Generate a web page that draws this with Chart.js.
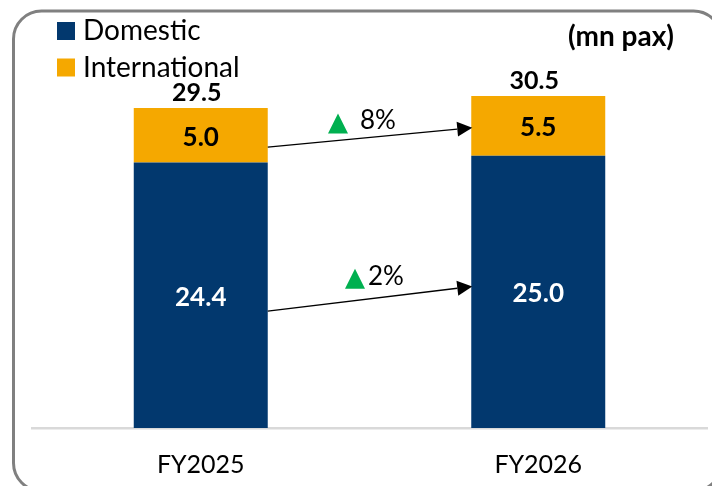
<!DOCTYPE html>
<html>
<head>
<meta charset="utf-8">
<script src="https://cdn.jsdelivr.net/npm/chart.js@4"></script>
<style>
  html, body { margin: 0; padding: 0; background: #ffffff; }
  #wrap { width: 712px; height: 486px; position: relative; }
</style>
</head>
<body>
<div id="wrap"><canvas id="c" width="712" height="486"></canvas></div>
<script>
// ---- data ----
const categories = ['FY2025', 'FY2026'];
const domestic = [24.4, 25.0];
const international = [5.0, 5.5];
const totals = [29.5, 30.5];
const seriesNames = ['Domestic', 'International'];
const growthLabels = ['2%', '8%'];      // per series: Domestic, International
const unitLabel = '(mn pax)';

const NAVY = '#02386E';
const ORANGE = '#F5A800';
const GREEN = '#00B050';
const FONT = 'Lato, "Open Sans", sans-serif';

const borderPlugin = {
  id: 'frame',
  beforeDraw(chart) {
    const ctx = chart.ctx;
    ctx.save();
    ctx.strokeStyle = '#808080';
    ctx.lineWidth = 3;
    ctx.beginPath();
    ctx.roundRect(13.5, 11, 708, 480, 28);
    ctx.stroke();
    ctx.restore();
  }
};

const legendPlugin = {
  id: 'customLegend',
  afterDraw(chart) {
    const ctx = chart.ctx;
    ctx.save();
    ctx.font = '28px ' + FONT;
    ctx.textBaseline = 'middle';
    ctx.textAlign = 'left';
    chart.data.datasets.forEach((ds, i) => {
      const y = 22 + i * 36.5;
      ctx.fillStyle = ds.backgroundColor;
      ctx.fillRect(57, y, 18, 18);
      ctx.fillStyle = '#000';
      ctx.fillText(ds.label, 83, y + 9);
    });
    ctx.font = 'bold 28px ' + FONT;
    ctx.textAlign = 'center';
    ctx.fillText(unitLabel, 621, 37);
    ctx.restore();
  }
};

const labelsPlugin = {
  id: 'valueLabels',
  afterDatasetsDraw(chart) {
    const ctx = chart.ctx;
    ctx.save();
    ctx.textAlign = 'center';
    ctx.textBaseline = 'middle';
    ctx.font = 'bold 26px ' + FONT;
    const metas = chart.data.datasets.map((d, i) => chart.getDatasetMeta(i));
    metas.forEach((meta, di) => {
      const ds = chart.data.datasets[di];
      meta.data.forEach((bar, j) => {
        ctx.fillStyle = di === 0 ? '#ffffff' : '#000000';
        ctx.fillText(ds.data[j].toFixed(1), bar.x, (bar.y + bar.base) / 2 + 2);
      });
    });
    // totals
    ctx.font = 'bold 25px ' + FONT;
    ctx.fillStyle = '#000';
    const top = metas[metas.length - 1];
    top.data.forEach((bar, j) => {
      ctx.fillText(totals[j].toFixed(1), bar.x - 4, bar.y - 15);
    });

    // growth arrows
    const fracs = [[0.56, 0.48], [0.72, 0.53]];
    const markOff = [[-25, -10], [-42, -4]];
    metas.forEach((meta, di) => {
      const b0 = meta.data[0], b1 = meta.data[1];
      const x0 = b0.x + b0.width / 2;
      const y0 = b0.y + (b0.base - b0.y) * fracs[di][0];
      const x1 = b1.x - b1.width / 2 + 1;
      const y1 = b1.y + (b1.base - b1.y) * fracs[di][1];
      const ang = Math.atan2(y1 - y0, x1 - x0);
      const hl = 15, hw = 7.5;
      const bx = x1 - hl * Math.cos(ang), by = y1 - hl * Math.sin(ang);
      ctx.strokeStyle = '#000';
      ctx.lineWidth = 1.4;
      ctx.beginPath();
      ctx.moveTo(x0, y0);
      ctx.lineTo(bx, by);
      ctx.stroke();
      ctx.fillStyle = '#000';
      ctx.beginPath();
      ctx.moveTo(x1, y1);
      ctx.lineTo(bx + hw * Math.sin(ang), by - hw * Math.cos(ang));
      ctx.lineTo(bx - hw * Math.sin(ang), by + hw * Math.cos(ang));
      ctx.closePath();
      ctx.fill();
      // growth mark
      const mx = (x0 + x1) / 2, my = (y0 + y1) / 2;
      const tx = mx + markOff[di][0];
      const tb = my + markOff[di][1];
      ctx.fillStyle = GREEN;
      ctx.beginPath();
      ctx.moveTo(tx, tb);
      ctx.lineTo(tx + 20, tb);
      ctx.lineTo(tx + 10, tb - 20);
      ctx.closePath();
      ctx.fill();
      ctx.fillStyle = '#000';
      ctx.font = '26px ' + FONT;
      ctx.textAlign = 'left';
      ctx.textBaseline = 'alphabetic';
      ctx.fillText(growthLabels[di], tx + (di === 0 ? 23 : 32), tb - 4);
      ctx.textAlign = 'center';
      ctx.textBaseline = 'middle';
    });
    ctx.restore();
  }
};

new Chart(document.getElementById('c'), {
  type: 'bar',
  data: {
    labels: categories,
    datasets: [
      { label: seriesNames[0], data: domestic, backgroundColor: NAVY },
      { label: seriesNames[1], data: international, backgroundColor: ORANGE }
    ]
  },
  plugins: [borderPlugin, legendPlugin, labelsPlugin],
  options: {
    responsive: false,
    animation: false,
    devicePixelRatio: 1,
    layout: { padding: { top: 47, left: 32, right: 5, bottom: 0 } },
    datasets: { bar: { barPercentage: 1, categoryPercentage: 0.397 } },
    plugins: { legend: { display: false }, tooltip: { enabled: false } },
    scales: {
      x: {
        stacked: true,
        grid: { display: false, drawTicks: false },
        border: { display: true, color: '#D9D9D9', width: 2.5 },
        ticks: { color: '#000', font: { family: FONT, size: 25 }, padding: 22 },
        afterFit(scale) { scale.height = 58; }
      },
      y: {
        stacked: true,
        display: false,
        min: 0,
        max: 35
      }
    }
  }
});
</script>
</body>
</html>
